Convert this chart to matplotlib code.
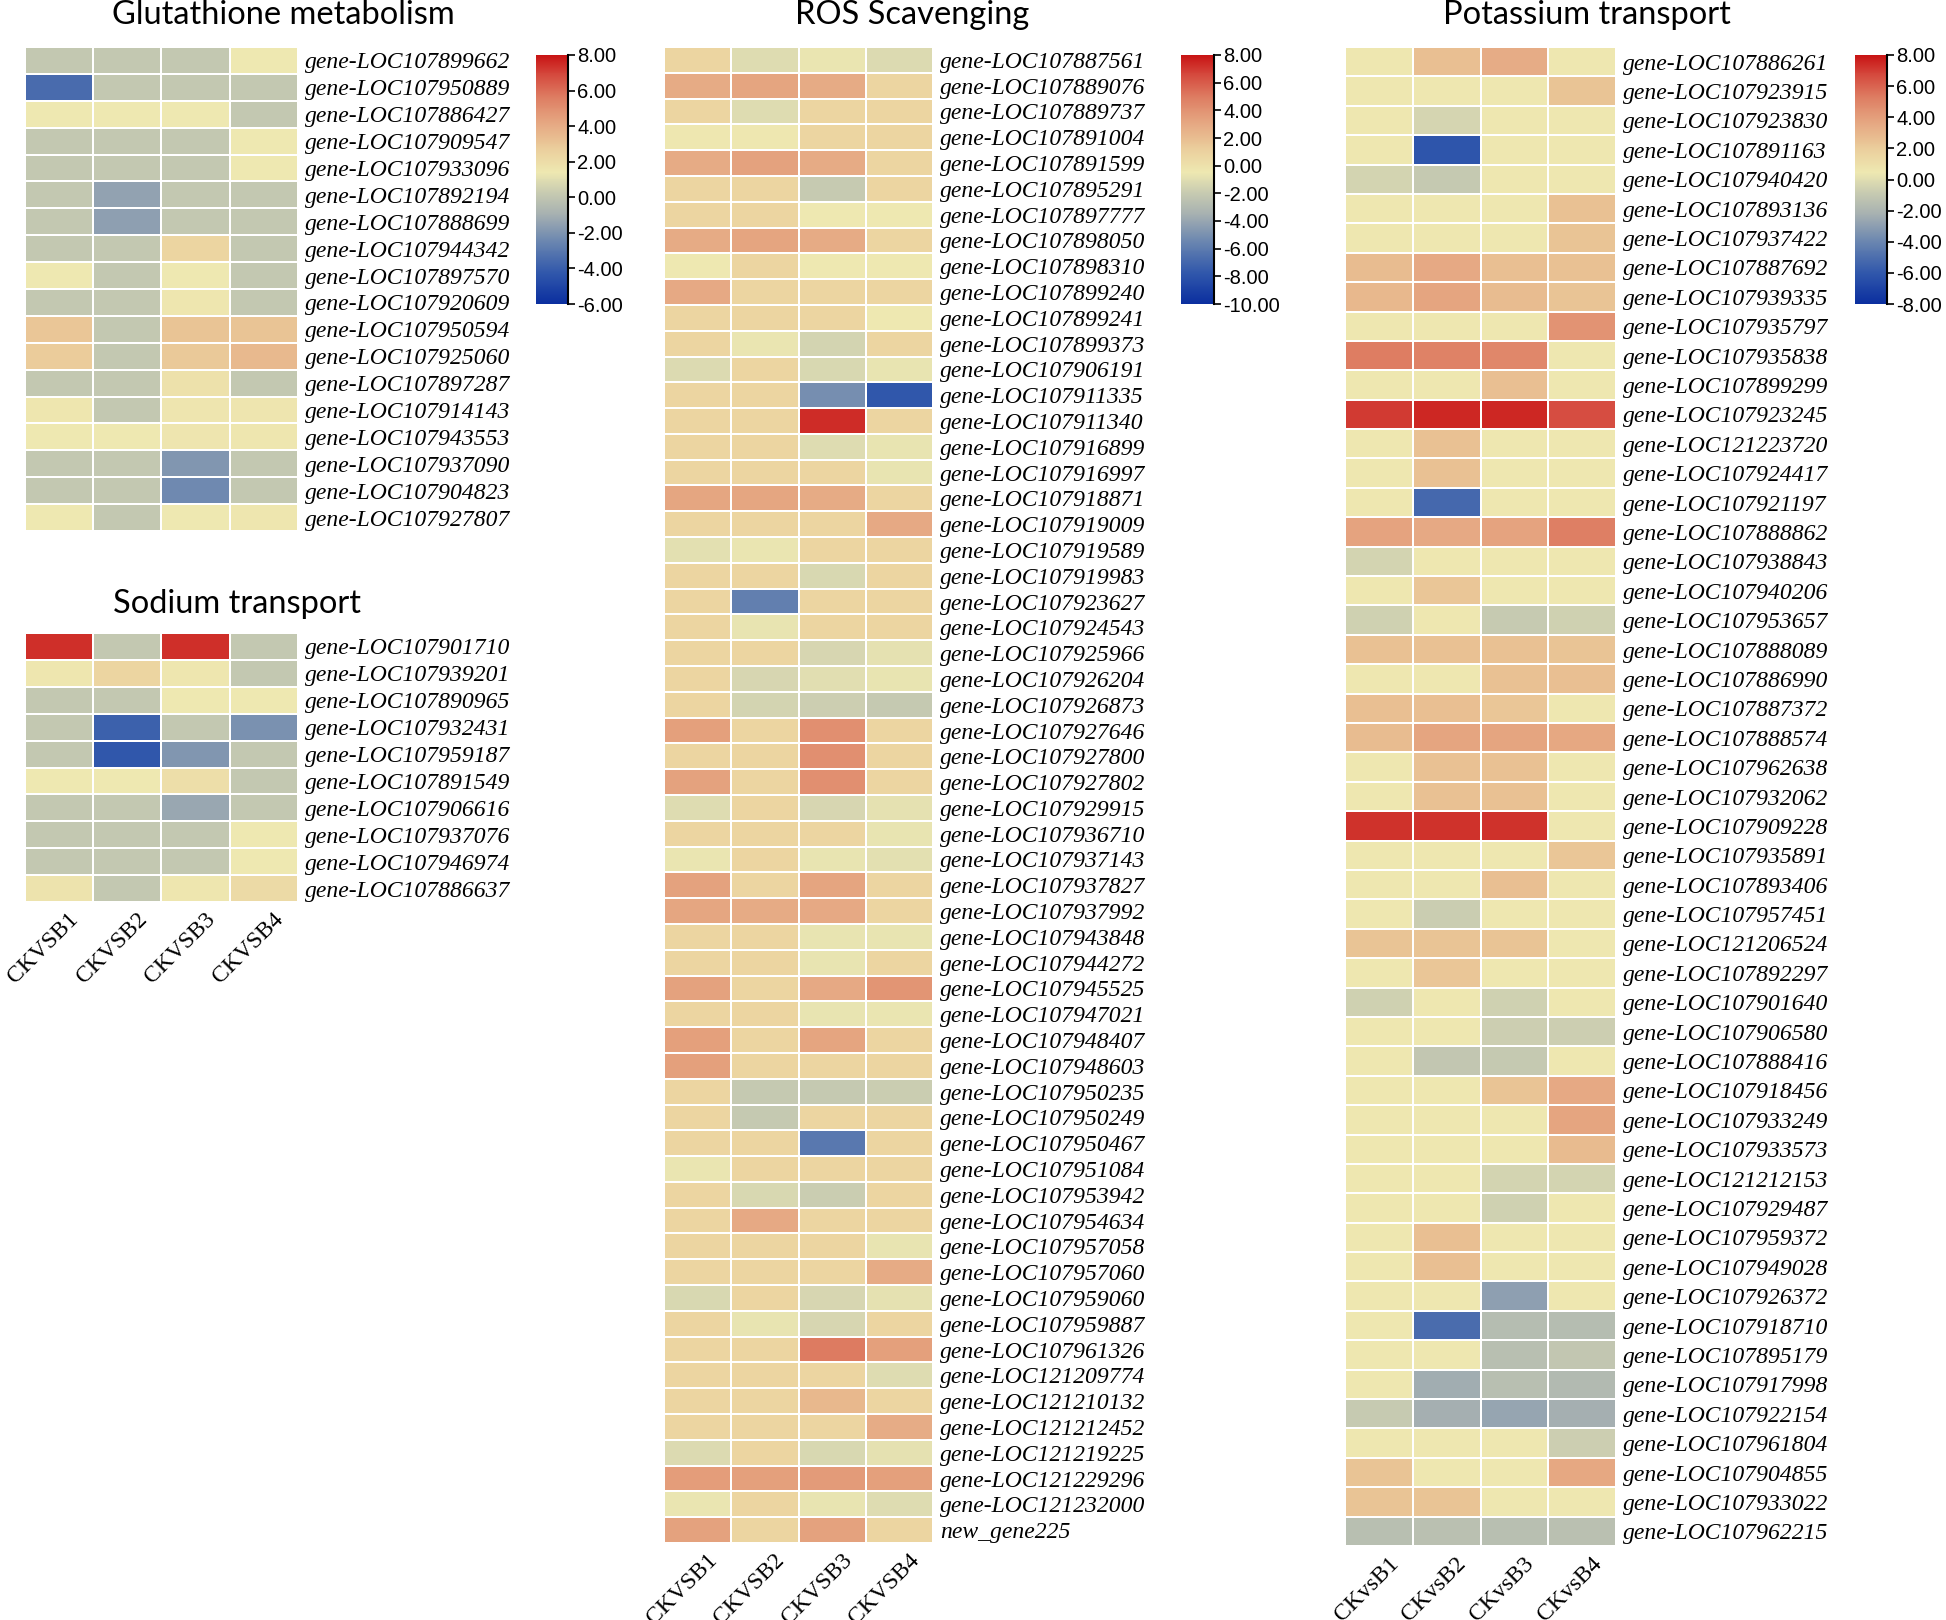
import numpy as np
import matplotlib.pyplot as plt
from matplotlib.colors import LinearSegmentedColormap
from matplotlib.transforms import offset_copy

plt.rcParams['axes.unicode_minus'] = False
plt.rcParams['font.family'] = 'Liberation Sans'

W, H = 1946, 1620

# column labels
cols_upper = ['CKVSB1', 'CKVSB2', 'CKVSB3', 'CKVSB4']
cols_lower = ['CKvsB1', 'CKvsB2', 'CKvsB3', 'CKvsB4']

# Glutathione metabolism
glu_genes = ['gene-LOC107899662', 'gene-LOC107950889', 'gene-LOC107886427', 'gene-LOC107909547',
             'gene-LOC107933096', 'gene-LOC107892194', 'gene-LOC107888699', 'gene-LOC107944342',
             'gene-LOC107897570', 'gene-LOC107920609', 'gene-LOC107950594', 'gene-LOC107925060',
             'gene-LOC107897287', 'gene-LOC107914143', 'gene-LOC107943553', 'gene-LOC107937090',
             'gene-LOC107904823', 'gene-LOC107927807']
glu_vals = [[0.1, 0.1, 0.1, 1.4], [-3.5, 0.1, 0.1, 0.1], [1.4, 1.4, 1.4, 0.1], [0.1, 0.1, 0.1, 1.4],
            [0.1, 0.1, 0.1, 1.4], [0.1, -1.5, 0.1, 0.1], [0.1, -1.6, 0.1, 0.1], [0.1, 0.1, 2.4, 0.1],
            [1.4, 0.1, 1.4, 0.1], [0.1, 0.1, 1.5, 0.1], [3.0, 0.1, 3.1, 3.1], [2.8, 0.1, 2.9, 3.5],
            [0.1, 0.1, 1.8, 0.1], [1.5, 0.1, 1.6, 1.6], [1.4, 1.4, 1.6, 1.5], [0.1, 0.1, -1.9, 0.1],
            [0.1, 0.1, -2.35, 0.1], [1.4, 0.1, 1.4, 1.5]]

# Sodium transport
na_genes = ['gene-LOC107901710', 'gene-LOC107939201', 'gene-LOC107890965', 'gene-LOC107932431',
            'gene-LOC107959187', 'gene-LOC107891549', 'gene-LOC107906616', 'gene-LOC107937076',
            'gene-LOC107946974', 'gene-LOC107886637']
na_vals = [[7.4, 0.1, 7.4, 0.1], [1.5, 2.4, 1.5, 0.1], [0.1, 0.1, 1.4, 1.4], [0.1, -3.9, 0.1, -2.1],
           [0.1, -4.3, -1.9, 0.1], [1.4, 1.4, 1.9, 0.1], [0.1, 0.1, -1.3, 0.1], [0.1, 0.1, 0.1, 1.4],
           [0.1, 0.1, 0.1, 1.4], [1.7, 0.1, 1.5, 2.1]]

# ROS Scavenging
ros_genes = ['gene-LOC107887561', 'gene-LOC107889076', 'gene-LOC107889737', 'gene-LOC107891004',
             'gene-LOC107891599', 'gene-LOC107895291', 'gene-LOC107897777', 'gene-LOC107898050',
             'gene-LOC107898310', 'gene-LOC107899240', 'gene-LOC107899241', 'gene-LOC107899373',
             'gene-LOC107906191', 'gene-LOC107911335', 'gene-LOC107911340', 'gene-LOC107916899',
             'gene-LOC107916997', 'gene-LOC107918871', 'gene-LOC107919009', 'gene-LOC107919589',
             'gene-LOC107919983', 'gene-LOC107923627', 'gene-LOC107924543', 'gene-LOC107925966',
             'gene-LOC107926204', 'gene-LOC107926873', 'gene-LOC107927646', 'gene-LOC107927800',
             'gene-LOC107927802', 'gene-LOC107929915', 'gene-LOC107936710', 'gene-LOC107937143',
             'gene-LOC107937827', 'gene-LOC107937992', 'gene-LOC107943848', 'gene-LOC107944272',
             'gene-LOC107945525', 'gene-LOC107947021', 'gene-LOC107948407', 'gene-LOC107948603',
             'gene-LOC107950235', 'gene-LOC107950249', 'gene-LOC107950467', 'gene-LOC107951084',
             'gene-LOC107953942', 'gene-LOC107954634', 'gene-LOC107957058', 'gene-LOC107957060',
             'gene-LOC107959060', 'gene-LOC107959887', 'gene-LOC107961326', 'gene-LOC121209774',
             'gene-LOC121210132', 'gene-LOC121212452', 'gene-LOC121219225', 'gene-LOC121229296',
             'gene-LOC121232000', 'new_gene225']
ros_vals = [[0.8, -1.1, -0.6, -1.2], [2.9, 3.2, 2.9, 0.8], [0.8, -1.1, 0.8, 0.8], [-0.4, -0.4, 0.8, 0.8],
            [2.9, 3.3, 2.9, 0.8], [0.8, 0.8, -2.0, 0.8], [0.8, 0.8, -0.5, -0.5], [2.9, 3.2, 2.9, 0.8],
            [-0.5, 0.8, -0.5, -0.5], [3.0, 0.8, 0.8, 0.8], [0.8, 0.8, 0.8, -0.5], [0.8, -0.6, -1.5, 0.8],
            [-1.2, 0.8, -1.3, -0.7], [0.8, 0.8, -5.1, -7.8], [0.8, 0.8, 7.3, 0.8], [0.8, 0.8, -1.1, -0.7],
            [0.8, 0.8, 0.8, -0.7], [3.1, 3.1, 2.9, 0.8], [0.8, 0.8, 0.8, 3.0], [-0.9, -0.6, 0.8, 0.8],
            [0.8, 0.8, -1.3, 0.8], [0.8, -5.8, 0.8, 0.8], [0.8, -0.7, 0.8, 0.8], [0.8, 0.8, -1.4, -0.8],
            [0.8, -1.4, -1.0, -0.7], [0.8, -1.5, -1.8, -2.1], [3.4, 0.8, 4.2, 0.8], [0.8, 0.8, 4.2, 0.8],
            [3.3, 0.8, 4.2, 0.8], [-1.1, 0.8, -1.4, -0.8], [0.8, 0.8, 0.8, -0.7], [-0.6, 0.8, -0.7, -0.9],
            [3.3, 0.8, 3.2, 0.8], [3.1, 2.9, 3.0, 0.8], [0.8, 0.8, -0.7, -0.7], [0.8, 0.8, -0.7, 0.8],
            [3.3, 0.8, 3.0, 3.9], [0.8, 0.8, -0.7, -0.6], [3.4, 0.8, 3.2, 0.8], [3.4, 0.8, 0.8, 0.8],
            [0.8, -2.1, -2.1, -1.9], [0.8, -2.1, 0.8, 0.8], [0.8, 0.8, -6.2, 0.8], [-0.6, 0.8, 0.8, 0.8],
            [0.8, -1.3, -1.9, 0.8], [0.8, 3.0, 0.8, 0.8], [0.8, 0.8, 0.8, -0.7], [0.8, 0.8, 0.8, 2.9],
            [-1.3, 0.8, -1.4, -0.8], [0.8, -0.7, -1.4, 0.8], [0.8, 0.8, 5.0, 3.4], [0.8, 0.8, 0.8, -1.1],
            [0.8, 0.8, 2.3, 0.8], [0.8, 0.8, 0.8, 2.8], [-1.2, 0.8, -1.3, -0.8], [3.5, 3.4, 3.6, 3.4],
            [-0.6, 0.8, -0.7, -1.1], [3.3, 0.8, 3.3, 0.8]]

# Potassium transport
k_genes = ['gene-LOC107886261', 'gene-LOC107923915', 'gene-LOC107923830', 'gene-LOC107891163',
           'gene-LOC107940420', 'gene-LOC107893136', 'gene-LOC107937422', 'gene-LOC107887692',
           'gene-LOC107939335', 'gene-LOC107935797', 'gene-LOC107935838', 'gene-LOC107899299',
           'gene-LOC107923245', 'gene-LOC121223720', 'gene-LOC107924417', 'gene-LOC107921197',
           'gene-LOC107888862', 'gene-LOC107938843', 'gene-LOC107940206', 'gene-LOC107953657',
           'gene-LOC107888089', 'gene-LOC107886990', 'gene-LOC107887372', 'gene-LOC107888574',
           'gene-LOC107962638', 'gene-LOC107932062', 'gene-LOC107909228', 'gene-LOC107935891',
           'gene-LOC107893406', 'gene-LOC107957451', 'gene-LOC121206524', 'gene-LOC107892297',
           'gene-LOC107901640', 'gene-LOC107906580', 'gene-LOC107888416', 'gene-LOC107918456',
           'gene-LOC107933249', 'gene-LOC107933573', 'gene-LOC121212153', 'gene-LOC107929487',
           'gene-LOC107959372', 'gene-LOC107949028', 'gene-LOC107926372', 'gene-LOC107918710',
           'gene-LOC107895179', 'gene-LOC107917998', 'gene-LOC107922154', 'gene-LOC107961804',
           'gene-LOC107904855', 'gene-LOC107933022', 'gene-LOC107962215']
k_vals = [[0.5, 2.6, 3.4, 0.5], [0.5, 0.5, 0.5, 2.4], [0.5, -0.4, 0.5, 0.5], [0.5, -6.1, 0.5, 0.5],
          [-0.5, -1.0, 0.5, 0.5], [0.5, 0.5, 0.5, 2.5], [0.5, 0.5, 0.5, 2.4], [2.7, 3.5, 2.6, 2.5],
          [2.9, 3.7, 2.7, 2.4], [0.5, 0.5, 0.5, 4.4], [5.3, 5.1, 4.9, 0.5], [0.5, 0.5, 2.6, 0.5],
          [7.1, 7.5, 7.5, 6.6], [0.5, 2.5, 0.5, 0.5], [0.5, 2.5, 0.5, 0.5], [0.5, -5.3, 0.5, 0.5],
          [3.8, 3.5, 3.8, 5.2], [-0.5, 0.5, 0.5, 0.5], [0.5, 2.3, 0.5, 0.5], [-0.6, 0.5, -0.9, -0.6],
          [2.5, 2.5, 2.5, 2.4], [0.5, 0.5, 2.5, 2.6], [2.6, 2.6, 2.3, 0.5], [2.7, 3.7, 3.7, 3.6],
          [0.5, 2.5, 2.5, 0.5], [0.5, 2.5, 2.5, 0.5], [7.3, 7.3, 7.3, 0.5], [0.5, 0.5, 0.5, 2.3],
          [0.5, 0.5, 2.6, 0.5], [0.5, -0.8, 0.5, 0.5], [2.4, 2.4, 2.4, 0.5], [0.5, 2.3, 0.5, 0.5],
          [-0.6, 0.5, -0.6, 0.5], [0.5, 0.5, -0.7, -0.7], [0.5, -1.1, -1.0, 0.5], [0.5, 0.5, 2.4, 3.5],
          [0.5, 0.5, 0.5, 3.7], [0.5, 0.5, 0.5, 2.8], [0.5, 0.5, -0.5, -0.5], [0.5, 0.5, -0.6, 0.5],
          [0.5, 2.6, 0.5, 0.5], [0.5, 2.6, 0.5, 0.5], [0.5, 0.5, -3.0, 0.5], [0.5, -5.1, -1.6, -1.6],
          [0.5, 0.5, -1.5, -1.1], [0.5, -2.4, -1.5, -1.7], [-0.9, -2.3, -2.7, -2.3], [0.5, 0.5, 0.5, -0.7],
          [2.4, 0.5, 0.5, 3.6], [2.4, 2.4, 0.5, 0.5], [-1.5, -1.4, -1.5, -1.4]]

cmap = LinearSegmentedColormap.from_list('tbtools', [
    (0.00, '#0b2f9f'), (0.12, '#2f56ab'), (0.25, '#6a86b0'), (0.35, '#a2adb1'),
    (0.44, '#c5c9b1'), (0.53, '#eee8b1'), (0.62, '#ebcf9d'), (0.72, '#e6aa84'),
    (0.83, '#de7e63'), (0.93, '#d4443a'), (1.00, '#c81414')])

fig = plt.figure(figsize=(W / 100, H / 100), dpi=100)


def box(x0, y0, x1, y1):
    # pixel box (from top-left) -> figure fraction
    return [x0 / W, 1 - y1 / H, (x1 - x0) / W, (y1 - y0) / H]


def heat(rect, vals, genes, vmin, vmax, xlabels=None):
    ax = fig.add_axes(box(*rect))
    data = np.array(vals)
    ax.pcolormesh(data, cmap=cmap, vmin=vmin, vmax=vmax, edgecolors='white', linewidth=1.3)
    ax.set_xlim(0, data.shape[1])
    ax.set_ylim(data.shape[0], 0)
    ax.yaxis.tick_right()
    ax.set_yticks(np.arange(len(genes)) + 0.5)
    ax.set_yticklabels(genes, family='Liberation Serif', style='italic', fontsize=17)
    ax.tick_params(length=0, pad=5)
    ax.set_xticks([])
    if xlabels:
        # rotated column names hanging under the matrix
        tr = offset_copy(ax.get_xaxis_transform(), fig=fig, x=9, y=-7, units='dots')
        for i, lab in enumerate(xlabels):
            ax.text(i + 0.5, 0, lab, transform=tr, rotation=45, rotation_mode='anchor',
                    ha='right', va='top', family='Liberation Serif', fontsize=17)
    for s in ax.spines.values():
        s.set_visible(False)
    return ax


def cbar(rect, vmin, vmax):
    cax = fig.add_axes(box(*rect))
    sm = plt.cm.ScalarMappable(norm=plt.Normalize(vmin, vmax), cmap=cmap)
    cb = fig.colorbar(sm, cax=cax, ticks=np.arange(vmin, vmax + 1, 2))
    cb.ax.yaxis.set_major_formatter('{x:.2f}')
    cb.outline.set_visible(False)
    cax.plot([1, 1], [0, 1], transform=cax.transAxes, color='black', lw=1.5, clip_on=False)
    cax.tick_params(labelsize=14.5, length=5, width=1.2, pad=1.5)


heat((25, 47, 298, 531), glu_vals, glu_genes, -6, 8)
heat((25, 633, 298, 902), na_vals, na_genes, -6, 8, cols_upper)
heat((664, 47, 933, 1543), ros_vals, ros_genes, -10, 8, cols_upper)
heat((1345, 47, 1616, 1546), k_vals, k_genes, -8, 8, cols_lower)

cbar((536, 55, 568, 304), -6, 8)
cbar((1181, 55, 1214, 304), -10, 8)
cbar((1855, 55, 1887, 304), -8, 8)

title_kw = dict(family='Lato', fontsize=23.5, ha='center', va='baseline')
fig.text(283 / W, 1 - 24 / H, 'Glutathione metabolism', **title_kw)
fig.text(237 / W, 1 - 613 / H, 'Sodium transport', **title_kw)
fig.text(912 / W, 1 - 24 / H, 'ROS Scavenging', **title_kw)
fig.text(1587 / W, 1 - 24 / H, 'Potassium transport', **title_kw)

fig.savefig('out.png', dpi=100)
